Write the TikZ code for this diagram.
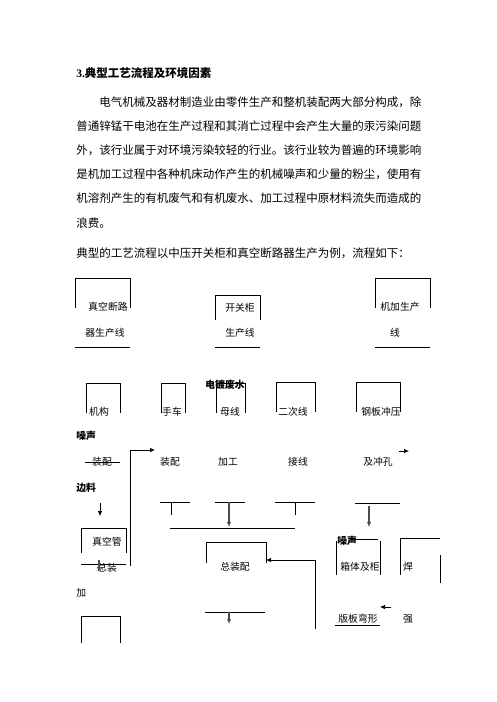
\documentclass[tikz,border=0pt]{standalone}
\usepackage{fontspec}
\setmainfont{Liberation Serif}
\newfontfamily\cjk{Noto Sans CJK SC}
\usetikzlibrary{arrows.meta}

\tikzset{
  body/.style={font=\cjk\fontsize{11.5}{13}\selectfont,inner sep=0pt,anchor=west},
  lbl/.style={font=\cjk\fontsize{9.8}{12}\selectfont,inner sep=0pt},
  note/.style={font=\cjk\bfseries\fontsize{9.8}{12}\selectfont,inner sep=0pt,anchor=west},
  arr/.style={-{Latex[length=5pt,width=4.5pt]}},
  garr/.style={arr,draw=gray!60!black,fill=gray!60!black,line width=1.2pt}
}

\begin{document}
\begin{tikzpicture}[x=1pt,y=-1pt,line width=.7pt]
\useasboundingbox (0,0) rectangle (496,702);

% text above the chart
\node[body] (head) at (76,73) {\bfseries{\rmfamily 3.}典型工艺流程及环境因素};
\node[body] (par1) at (99,102) {电气机械及器材制造业由零件生产和整机装配两大部分构成，除};
\node[body] (par2) at (76,126) {普通锌锰干电池在生产过程和其消亡过程中会产生大量的汞污染问题};
\node[body] (par3) at (76,150) {外，该行业属于对环境污染较轻的行业。该行业较为普遍的环境影响};
\node[body] (par4) at (76,174) {是机加工过程中各种机床动作产生的机械噪声和少量的粉尘，使用有};
\node[body] (par5) at (76,198) {机溶剂产生的有机废气和有机废水、加工过程中原材料流失而造成的};
\node[body] (par6) at (76,223) {浪费。};
\node[body] (par7) at (76,253) {典型的工艺流程以中压开关柜和真空断路器生产为例，流程如下：};

% open boxes: left/right/top/bottom
\foreach \l/\r/\t/\b in {75/130/278/308, 215/260/295/320, 375/430/278/308,
    86/120/383/413, 161/185/383/413, 216/245/383/413, 276/315/382/412,
    356/400/382/412, 81/126/528/553, 81/120/616/643, 206/266/542/563}
  \draw (\l,\b) |- (\r,\t) -- (\r,\b);
\foreach \l/\r/\y in {75/130/347, 215/260/347, 375/430/347, 85/120/462,
    160/190/502, 215/245/502, 275/315/502, 170/295/528, 355/400/503,
    81/126/564, 205/265/612, 350/378/539, 335/380/625}
  \draw (\l,\y) -- (\r,\y);

% production lines
\node[lbl] (vac1) at (108,307) {真空断路};
\node[lbl] (vac2) at (105,333) {器生产线};
\node[lbl] (sw1) at (240,308) {开关柜};
\node[lbl] (sw2) at (240,333) {生产线};
\node[lbl] (mach1) at (400,307) {机加生产};
\node[lbl] (mach2) at (395,333) {线};

\node[lbl] (mech) at (99,412) {机构};
\node[lbl] (cart) at (172,412) {手车};
\node[note,anchor=center] (plate) at (225,385) {电镀废水};
\node[lbl] (bus) at (230,412) {母线};
\node[lbl] (wire) at (293,412) {二次线};
\node[lbl] (steel) at (381,412) {钢板冲压};

\node[note] (noise1) at (76,436) {噪声};
\node[lbl] (asm1) at (102,462) {装配};
\node[note] (scrap) at (76,488) {边料};
\node[lbl] (asm2) at (170,462) {装配};
\node[lbl] (work) at (228,462) {加工};
\node[lbl] (conn) at (298,462) {接线};
\node[lbl] (punch) at (378,462) {及冲孔};

\node[lbl] (tube) at (107,542) {真空管};
\node[lbl] (tasm) at (107,568) {总装};
\node[lbl,anchor=west] (add) at (76,593) {加};
\node[lbl] (final) at (235,567) {总装配};
\node[note] (noise2) at (337,541) {噪声};
\node[lbl] (cab) at (360,567) {箱体及柜};
\node[lbl] (weld1) at (408,567) {焊};
\node[lbl] (bend) at (358,619) {版板弯形};
\node[lbl] (weld2) at (408,619) {强};

% stems
\draw (171,502) -- (171,515);
\draw (295,502) -- (295,515);
\draw (336,541) -- (336,575);
\draw (380,541) -- (380,575);
\draw (400,575) |- (440,538);
\draw (440,555) -- (440,583);

% arrows
\draw[arr] (130,566) |- (155,450);
\draw[arr] (399,451) -- (409,451);
\draw[arr] (100,503) -- (100,516);
\draw[garr] (229,502) -- (229,527);
\draw[garr] (369,506) -- (369,527);
\draw[garr] (99,560) -- (99,572);
\draw[arr] (315,629) |- (266,560);
\draw[garr] (229,612) -- (229,624);
\draw[arr] (391,607) -- (380,607);
\end{tikzpicture}
\end{document}
